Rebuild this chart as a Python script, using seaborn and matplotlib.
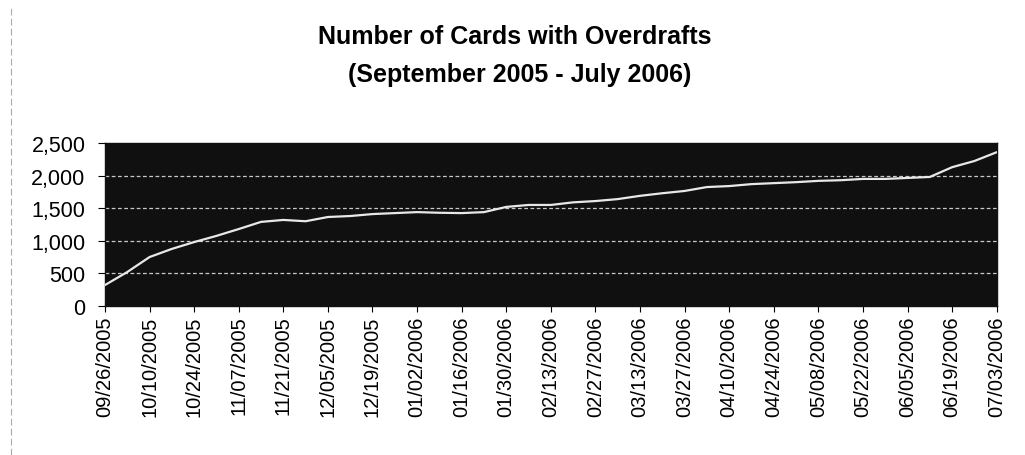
import numpy as np
import pandas as pd
import seaborn as sns
import matplotlib.pyplot as plt

# weekly counts, 09/26/2005 .. 07/03/2006
cards = [320, 520, 750, 875, 980, 1075, 1180, 1290, 1320, 1300,
         1365, 1380, 1410, 1425, 1440, 1430, 1425, 1440, 1520, 1550,
         1550, 1590, 1610, 1640, 1690, 1730, 1765, 1825, 1840, 1870,
         1885, 1900, 1920, 1930, 1950, 1950, 1965, 1980, 2130, 2225,
         2360]

tick_labels = ["09/26/2005", "10/10/2005", "10/24/2005", "11/07/2005",
               "11/21/2005", "12/05/2005", "12/19/2005", "01/02/2006",
               "01/16/2006", "01/30/2006", "02/13/2006", "02/27/2006",
               "03/13/2006", "03/27/2006", "04/10/2006", "04/24/2006",
               "05/08/2006", "05/22/2006", "06/05/2006", "06/19/2006",
               "07/03/2006"]

y_ticks = [0, 500, 1000, 1500, 2000, 2500]


def main():
    sns.set_style("white")
    plt.rcParams['font.family'] = ['Liberation Sans', 'DejaVu Sans']
    plt.rcParams['text.color'] = 'black'
    plt.rcParams['xtick.color'] = 'black'
    plt.rcParams['ytick.color'] = 'black'

    df = pd.DataFrame({"week": np.arange(len(cards)), "cards": cards})

    fig = plt.figure(figsize=(10.25, 4.56), dpi=100)
    ax = fig.add_axes([0.1024, 0.327, 0.870, 0.357])
    ax.set_facecolor("#101010")

    for v in y_ticks[1:-1]:
        ax.axhline(v, color="#c8c8c8", lw=0.9, ls=(0, (3, 2)), zorder=1)

    sns.lineplot(data=df, x="week", y="cards", ax=ax, color="#e8e8e8",
                 lw=1.6, zorder=3)

    ax.set_xlim(0, len(cards) - 1)
    ax.set_ylim(0, 2500)
    ax.set_yticks(y_ticks)
    ax.set_yticklabels([f"{v:,}" for v in y_ticks], fontsize=15.5)
    ax.set_xticks(np.arange(0, len(cards), 2))
    ax.set_xticklabels(tick_labels, rotation=90, fontsize=14.5)
    ax.set_xlabel("")
    ax.set_ylabel("")
    ax.tick_params(axis="x", direction="out", length=4, width=0.8,
                   bottom=True, pad=3)
    ax.tick_params(axis="y", direction="out", length=5, width=0.8,
                   left=True, pad=9)
    for s in ax.spines.values():
        s.set_color("#111111")
        s.set_linewidth(1.0)

    fig.text(0.502, 0.919, "Number of Cards with Overdrafts",
             ha="center", va="center", fontsize=18, fontweight="bold")
    fig.text(0.507, 0.835, "(September 2005 - July 2006)",
             ha="center", va="center", fontsize=18, fontweight="bold")

    # left edge of the scanned chart frame
    fig.add_artist(plt.Line2D([0.0105, 0.0105], [0.0, 0.985],
                              transform=fig.transFigure, color="#aaaaaa",
                              lw=0.8, ls=(0, (6, 3))))

    fig.savefig("out.png", dpi=100, facecolor="white")


if __name__ == "__main__":
    main()
